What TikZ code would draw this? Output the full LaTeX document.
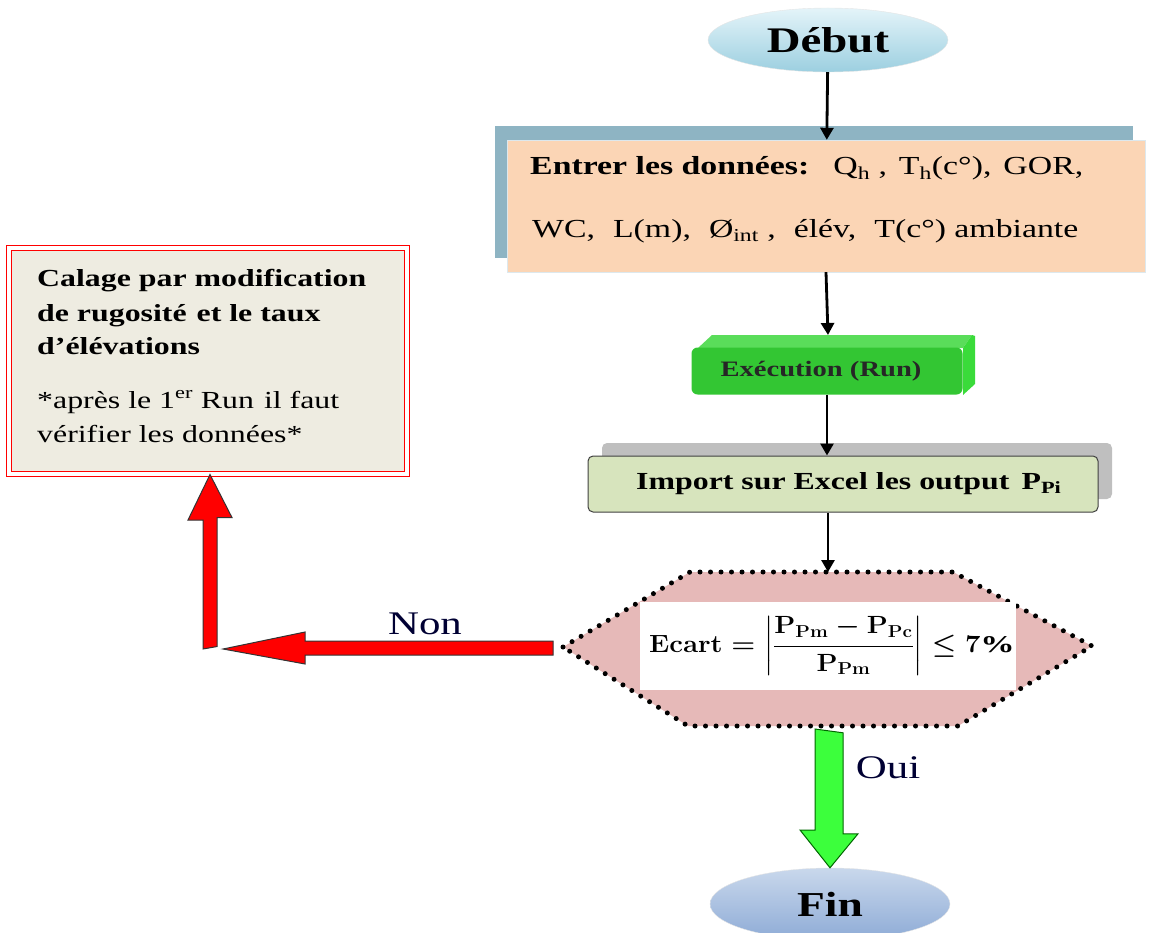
\documentclass[tikz,border=0pt]{standalone}
\usepackage{fontspec}
\usepackage{amsmath}
\setmainfont{Liberation Serif}[FakeStretch=1.3]
\usetikzlibrary{arrows.meta,positioning,shapes.geometric,calc,shadows}

\definecolor{peach}{HTML}{FBD5B5}
\definecolor{steel}{HTML}{8EB4C3}
\definecolor{beige}{HTML}{EEECE1}
\definecolor{runGreen}{HTML}{33C633}
\definecolor{runTop}{HTML}{5ADD5A}
\definecolor{runSide}{HTML}{3ADB3A}
\definecolor{olive}{HTML}{D7E4BD}
\definecolor{rosy}{HTML}{E6B9B8}
\definecolor{skyTop}{HTML}{E4F4F9}
\definecolor{skyBot}{HTML}{9CCFE0}
\definecolor{finTop}{HTML}{C9D8EC}
\definecolor{finBot}{HTML}{8EABD6}
\definecolor{lime}{HTML}{3CFF3C}

\newcommand{\fsz}[2]{\fontsize{#1}{#2}\selectfont}
\newsavebox{\ecartbox}

\begin{document}
\sbox{\ecartbox}{\scalebox{1.1}[1]{\fsz{24}{28}\boldmath$\mathbf{Ecart}=\left\lvert\dfrac{\mathbf{P_{Pm}}-\mathbf{P_{Pc}}}{\mathbf{P_{Pm}}}\right\rvert\leq\mathbf{7\%}$}}%
\begin{tikzpicture}[x=1pt, y=-1pt,
    flow/.style={line width=2.8pt, -{Triangle[length=12pt, width=13pt]}},
    term/.style={ellipse, minimum width=240pt, minimum height=64pt, draw=white!80!gray, font=\bfseries\fsz{36}{40}},
    line/.style={anchor=base west, inner sep=0pt},
    fatred/.style={fill=red, draw=black!80, line width=1pt, line join=miter},
    fatgreen/.style={fill=lime, draw=green!40!black, line width=1pt, line join=miter},
    dotline/.style={line width=5pt, dash pattern=on 0pt off 10.5pt, line cap=round}]

    \useasboundingbox (0,0) rectangle (1151,933);

    % terminals
    \node[term, top color=skyTop, bottom color=skyBot] (debut) at (828,40) {Début};
    \node[term, top color=finTop, bottom color=finBot, minimum height=72pt, font=\bfseries\fsz{35}{40}] (fin) at (830,904) {Fin};

    % data input
    \node[rectangle, fill=peach, draw=white!70!steel, minimum width=638pt, minimum height=132pt,
          drop shadow={shadow xshift=-12pt, shadow yshift=14pt, fill=steel, opacity=1}] (entrer) at (826,206) {};
    \node[line, font=\fsz{26}{30}] (entrerL1) at (530,175)
        {\textbf{Entrer les données:}\hspace{24pt}Q\textsubscript{h} ,\hspace{12pt}T\textsubscript{h}(c°),\hspace{12pt}GOR,};
    \node[line, font=\fsz{26}{30}] (entrerL2) at (532,238)
        {WC,\hspace{18pt}L(m),\hspace{18pt}Ø\textsubscript{int} ,\hspace{18pt}élév,\hspace{18pt}T(c°) ambiante};

    % run
    \fill[runTop] (698,348) -- (712,335) -- (972,335) -- (963,348) -- cycle;
    \fill[runSide] (963,348) -- (972,335) -- (975,336) -- (975,384) -- (963,395) -- cycle;
    \node[rectangle, rounded corners=6pt, fill=runGreen, minimum width=271pt, minimum height=47pt] (exec) at (827,371) {};
    \node[font=\bfseries\fsz{22}{26}, text=black!85] (execTxt) at (821,371) {Exécution (Run)};
    \coordinate (execTop) at (828,335);

    % import
    \node[rectangle, rounded corners=5pt, fill=olive, draw=black!75, line width=1pt,
          minimum width=510pt, minimum height=56pt,
          drop shadow={shadow xshift=14pt, shadow yshift=13pt, fill=black!25, opacity=1}] (import) at (843,484) {};
    \node[anchor=west, inner sep=0pt, font=\bfseries\fsz{24.5}{28}] (importTxt) at (636,484)
        {Import sur Excel les output\hspace{12pt}P\textsubscript{Pi}};

    % decision
    \coordinate (hexN) at (828,572);
    \coordinate (hexS) at (828,726);
    \coordinate (hexW) at (563,647);
    \filldraw[fill=rosy, draw=black, dotline] (hexW) -- (690,572) -- (hexN) -- (953,572) -- (1092,646)
        -- (958,726) -- (hexS) -- (688,726) -- cycle;
    \node[rectangle, fill=white, minimum width=376pt, minimum height=88pt] (ecart) at (828,646) {\usebox{\ecartbox}};

    % correction
    \node[rectangle, fill=beige, draw=red, double=white, double distance=3.5pt, line width=1.1pt,
          minimum width=398pt, minimum height=226pt] (calage) at (208,361) {};
    \node[line, font=\bfseries\fsz{24.5}{28}] (calageL1) at (37,287) {Calage par modification};
    \node[line, font=\bfseries\fsz{24.5}{28}] (calageL2) at (37,321) {de rugosité\hspace{10pt}et le taux};
    \node[line, font=\bfseries\fsz{24.5}{28}] (calageL3) at (37,354) {d'élévations};
    \node[line, font=\fsz{24.5}{28}] (calageL4) at (37,408) {*après le 1\textsuperscript{er} Run\hspace{10pt}il faut};
    \node[line, font=\fsz{24.5}{28}] (calageL5) at (37,442) {vérifier les données*};

    % thin connectors
    \draw[flow] (debut) -- (entrer);
    \draw[flow] (entrer.south) -- (execTop);
    \draw[flow] (exec) -- (exec |- import.north);
    \draw[flow] (import.south -| hexN) -- (hexN);

    % non branch
    \coordinate (bend) at (210,649);
    \draw[fatred] ($(bend)+(-7,0)$) -- ++(0,-129) -- ++(-15,0) -- (calage.south -| bend)
        -- ++(22,43) -- ++(-15,0) -- ++(0,129) -- cycle;
    \draw[fatred] ($(hexW)+(-10,-6)$) -- ++(-248,0) -- ++(0,-9) -- ($(bend)+(13,0)$)
        -- ++(82,15) -- ++(0,-9) -- ++(248,0) -- cycle;
    \node[font=\fsz{33}{36}, text=black!80!blue] (non) at (425,624) {Non};

    % oui branch
    \draw[fatgreen] ($(hexS)+(-13,3)$) -- ++(0,101) -- ++(-15,0) -- (fin.north)
        -- ++(28,-34) -- ++(-15,0) -- ++(0,-101) -- cycle;
    \node[font=\fsz{33}{36}, text=black!80!blue] (oui) at (888,768) {Oui};
\end{tikzpicture}
\end{document}
